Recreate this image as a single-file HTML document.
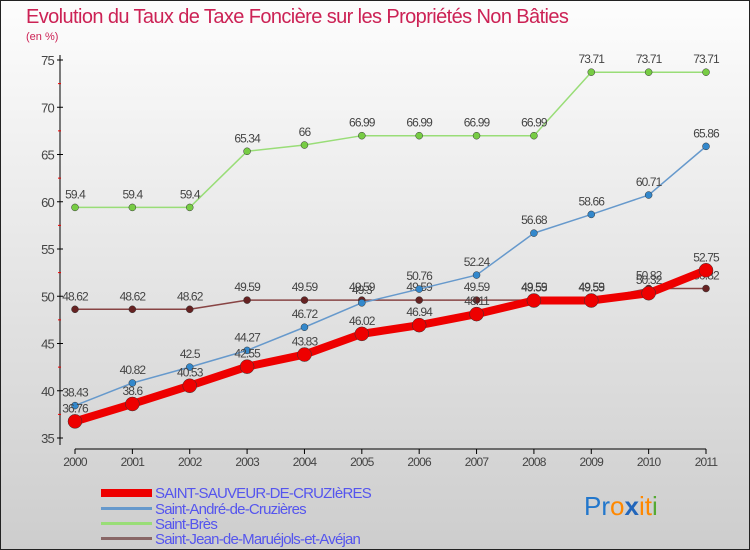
<!DOCTYPE html>
<html><head><meta charset="utf-8"><style>
body{margin:0}
#c{width:750px;height:550px;position:relative;overflow:hidden;font-family:"Liberation Sans",sans-serif}
svg text{font-family:"Liberation Sans",sans-serif}
</style></head><body>
<div id="c">
<svg id="s" width="750" height="550">
<defs><linearGradient id="bg" x1="0" y1="0" x2="0" y2="1"><stop offset="0" stop-color="#fdfdfd"/><stop offset="1" stop-color="#cdcdcd"/></linearGradient></defs>
<rect x="0.5" y="0.5" width="749" height="549" fill="url(#bg)" stroke="#222"/>
<text x="26" y="23" font-size="20" fill="#cc2255" letter-spacing="-0.6">Evolution du Taux de Taxe Foncière sur les Propriétés Non Bâties</text>
<text x="26" y="40" font-size="11" fill="#cc2255">(en %)</text>
<g id="axes"></g><g id="series"></g>
<g>
<rect x="101" y="489" width="51" height="8" fill="#ee0000"/>
<text x="155" y="498" font-size="15" fill="#5555ee" letter-spacing="-0.8">SAINT-SAUVEUR-DE-CRUZIèRES</text>
<rect x="101" y="507" width="51" height="3" fill="#6699cc"/>
<text x="155" y="514" font-size="15" fill="#5555ee" letter-spacing="-0.8">Saint-André-de-Cruzières</text>
<rect x="101" y="522" width="51" height="3" fill="#99dd77"/>
<text x="155" y="529" font-size="15" fill="#5555ee" letter-spacing="-0.8">Saint-Brès</text>
<rect x="101" y="537" width="51" height="3" fill="#886666"/>
<text x="155" y="544" font-size="15" fill="#5555ee" letter-spacing="-0.8">Saint-Jean-de-Maruéjols-et-Avéjan</text>
</g>
<g font-size="26">
<text x="584" y="515"><tspan fill="#2277cc">Pr</tspan><tspan fill="#ff8800">o</tspan><tspan fill="#2266bb" font-weight="bold">x</tspan><tspan fill="#ff8800">i</tspan><tspan fill="#ff8800">t</tspan><tspan fill="#55aa33">i</tspan></text>
</g>
</svg></div>
<script>
const years=[2000,2001,2002,2003,2004,2005,2006,2007,2008,2009,2010,2011];
const yTicks=[35,40,45,50,55,60,65,70,75];
const sauveur=[36.76,38.6,40.53,42.55,43.83,46.02,46.94,48.11,49.55,49.55,50.32,52.75];
const andre=[38.43,40.82,42.5,44.27,46.72,49.3,50.76,52.24,56.68,58.66,60.71,65.86];
const bres=[59.4,59.4,59.4,65.34,66,66.99,66.99,66.99,66.99,73.71,73.71,73.71];
const jean=[48.62,48.62,48.62,49.59,49.59,49.59,49.59,49.59,49.59,49.59,50.82,50.82];
const NS="http://www.w3.org/2000/svg";
const xS=i=>75+i*(631/11);
const yS=v=>60+(75-v)*(378/40);
function mk(t,a,p){const e=document.createElementNS(NS,t);for(const k in a)e.setAttribute(k,a[k]);p.appendChild(e);return e;}
const ax=document.getElementById('axes');
let e=mk('line',{x1:60,y1:55,x2:60,y2:445,stroke:'#000'},ax);


e=mk('line',{x1:75,y1:449,x2:706,y2:449,stroke:'#000'},ax);


yTicks.forEach(v=>{
 mk('line',{x1:57,y1:yS(v),x2:63,y2:yS(v),stroke:'#000'},ax);
 if(v<75)mk('line',{x1:58,y1:yS(v+2.5),x2:61,y2:yS(v+2.5),stroke:'#e00'},ax);
 const t=mk('text',{x:54,y:yS(v)+5,'font-size':13,fill:'#444','text-anchor':'end','letter-spacing':'-0.8'},ax);
 t.textContent=v;
 
 
});
years.forEach((y,i)=>{
 mk('line',{x1:xS(i),y1:449,x2:xS(i),y2:454,stroke:'#000'},ax);
 const t=mk('text',{x:xS(i),y:466,'font-size':12,fill:'#444','text-anchor':'middle','letter-spacing':'-0.8'},ax);
 t.textContent=y;
 
 
});
const sg=document.getElementById('series');
function draw(data,color,dot,w,r,name){
 const g=mk('g',{},sg);
 
 
 const l=mk('polyline',{points:data.map((v,i)=>xS(i)+','+yS(v)).join(' '),fill:'none',stroke:color,'stroke-width':w,'stroke-linejoin':'round'},g);
 
 
 data.forEach((v,i)=>{
  const c=mk('circle',{cx:xS(i),cy:yS(v),r:r,fill:dot,stroke:'#333','stroke-width':0.5},g);
  
  
  const t=mk('text',{x:xS(i),y:yS(v)-9,'font-size':12,fill:'#444','text-anchor':'middle','letter-spacing':'-0.9'},g);
  t.textContent=v;
  
  
 });
}
draw(bres,'#99dd77','#77cc44',1.5,3.5,'saint-bres');
draw(jean,'#884444','#662222',1.5,3.5,'saint-jean');
draw(andre,'#6699cc','#3388cc',1.5,3.5,'saint-andre');
draw(sauveur,'#ee0000','#ee0000',8,7,'saint-sauveur');
</script>
</body></html>
